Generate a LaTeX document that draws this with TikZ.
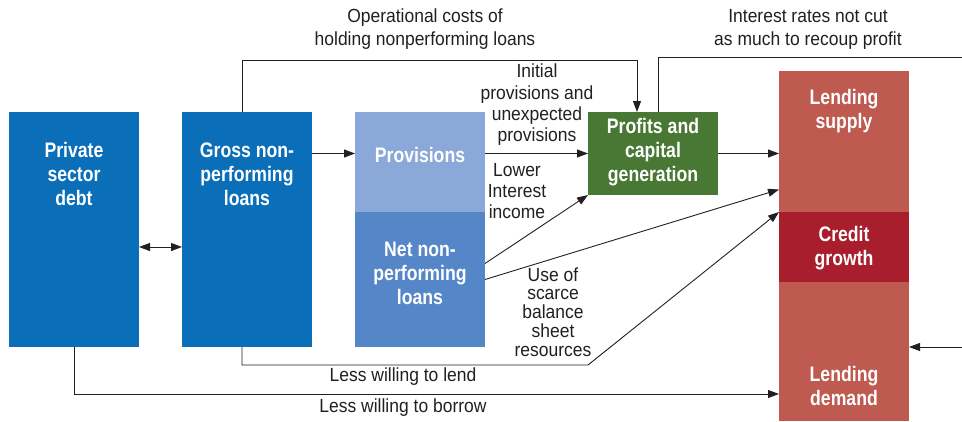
\documentclass[tikz,border=0pt]{standalone}
\usepackage{fontspec}
\setmainfont{Liberation Sans}
\newfontfamily\lblfont[FakeStretch=0.92]{Liberation Sans}
\newfontfamily\boxfont[FakeStretch=0.84]{Liberation Sans}
\usetikzlibrary{arrows.meta}
\definecolor{blueA}{HTML}{0A6EB8}
\definecolor{provC}{HTML}{8AA8D8}
\definecolor{netC}{HTML}{5587C8}
\definecolor{greenC}{HTML}{487833}
\definecolor{redL}{HTML}{BE5A50}
\definecolor{redC}{HTML}{A81E2C}
\definecolor{lineC}{HTML}{231F20}
\begin{document}
\begin{tikzpicture}[x=1pt,y=-1pt,
  box/.style={draw=none,inner sep=0pt,outer sep=0pt,minimum width=130pt},
  boxtext/.style={text=white,font=\boxfont\bfseries\fontsize{21}{24}\selectfont,align=center,inner sep=0pt},
  lbl/.style={text=lineC,font=\lblfont\fontsize{19}{23}\selectfont,align=center,inner sep=0pt},
  conn/.style={draw=lineC,line width=0.9pt,-{Triangle[length=11pt,width=8pt]}},
  plain/.style={draw=lineC,line width=0.9pt},
]
\useasboundingbox (0,0) rectangle (962,421);
% boxes
\node[box,fill=blueA,minimum height=235pt] (debt) at (74,229.5) {};
\node[box,fill=blueA,minimum height=235pt] (gross) at (247,229.5) {};
\node[box,fill=provC,minimum height=100pt] (prov) at (420,162) {};
\node[box,fill=netC,minimum height=135pt] (net) at (420,279.5) {};
\node[box,fill=greenC,minimum height=83pt] (profit) at (653,153.5) {};
\node[box,fill=redL,minimum height=141pt] (supply) at (844,141.5) {};
\node[box,fill=redC,minimum height=70pt] (credit) at (844,247) {};
\node[box,fill=redL,minimum height=139pt] (demand) at (844,351.5) {};
% box texts
\node[boxtext] (debtT) at (74,174) {Private\\sector\\debt};
\node[boxtext] (grossT) at (247,174) {Gross non-\\performing\\loans};
\node[boxtext] (provT) at (420,155) {Provisions};
\node[boxtext] (netT) at (420,273) {Net non-\\performing\\loans};
\node[boxtext] (profitT) at (653,152) {Profits and\\capital\\generation};
\node[boxtext] (supplyT) at (844,111) {Lending\\supply};
\node[boxtext] (creditT) at (844,248) {Credit\\growth};
\node[boxtext] (demandT) at (844,386) {Lending\\demand};
% labels
\node[lbl] (l1) at (425,29) {Operational costs of\\holding nonperforming loans};
\node[lbl] (l2) at (808,29) {Interest rates not cut\\as much to recoup profit};
\node[lbl,font=\lblfont\fontsize{19}{21.3}\selectfont] (l3) at (537,105) {Initial\\provisions and\\unexpected\\provisions};
\node[lbl,font=\lblfont\fontsize{19}{21}\selectfont] (l4) at (517,191) {Lower\\Interest\\income};
\node[lbl,font=\lblfont\fontsize{19}{18.8}\selectfont] (l5) at (553,312) {Use of\\scarce\\balance\\sheet\\resources};
\node[lbl] (l6) at (403,377) {Less willing to lend};
\node[lbl] (l7) at (403,408) {Less willing to borrow};
% connectors
\coordinate (rtop) at (962,57);
\coordinate (rin) at (962,347);
\draw[conn] ([xshift=-5pt]gross.north) -- ++(0,-52) -| ([xshift=-16pt]profit.north);
\draw[plain] ([xshift=5pt]profit.north) |- (rtop);
\draw[conn] (rin) -- (demand.east |- rin);
\draw[conn] (gross.east |- profit.west) -- (prov.west |- profit.west);
\draw[conn] (prov.east |- profit.west) -- (profit.west);
\draw[conn] (profit.east) -- (supply.west |- profit.east);
\draw[conn] ([yshift=16pt]net.east) -- (profit.south west);
\draw[conn] (net.east) -- ([yshift=-48pt]supply.west);
\draw[conn] ([xshift=-5pt]gross.south) -- ++(0,18) -- ++(346,0) -- (supply.south west);
\coordinate (borrowY) at (0,394);
\draw[conn] (debt.south) |- (demand.west |- borrowY);
\draw[draw=lineC,line width=0.9pt,{Triangle[length=11pt,width=8pt]}-{Triangle[length=11pt,width=8pt]}] (debt.east |- credit.west) -- (gross.west |- credit.west);
\end{tikzpicture}
\end{document}
